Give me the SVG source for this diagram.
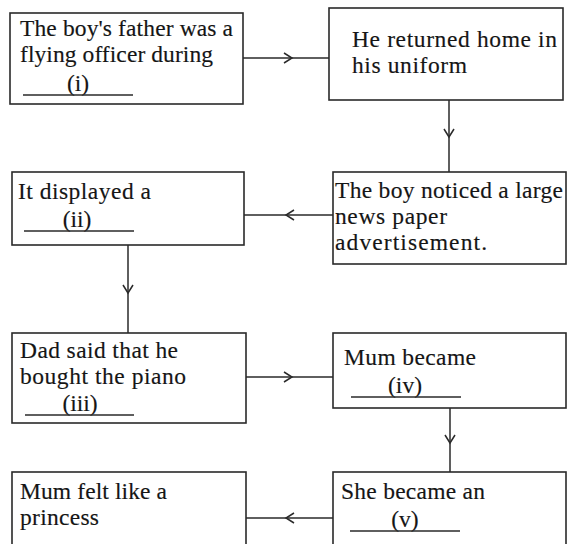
<svg xmlns="http://www.w3.org/2000/svg" width="567" height="544" viewBox="0 0 567 544">
<style>
.box{fill:#fff;stroke:#2a2a2a;stroke-width:1.6}
.t{font-family:"Liberation Serif","Times New Roman",serif;font-size:23.5px;fill:#151515;stroke:#151515;stroke-width:0.15}
.c{text-anchor:middle}
.ul{stroke:#2a2a2a;stroke-width:1.3}
.conn{fill:none;stroke:#2a2a2a;stroke-width:1.5;marker-mid:url(#chev)}
</style>
<defs>
<marker id="chev" markerUnits="userSpaceOnUse" markerWidth="16" markerHeight="16" viewBox="-10 -8 12 16" refX="0" refY="0" orient="auto">
<path d="M-8,-5 L0,0 L-8,5" fill="none" stroke="#2a2a2a" stroke-width="1.5"/>
</marker>
</defs>
<rect width="567" height="544" fill="#fff"/>
<g id="connectors">
<path class="conn" d="M243,58 L292,58 L329,58"/>
<path class="conn" d="M449,100 L449,137 L449,172"/>
<path class="conn" d="M333,215 L286,215 L244,215"/>
<path class="conn" d="M128,245 L128,293 L128,333"/>
<path class="conn" d="M246,377 L292,377 L333,377"/>
<path class="conn" d="M450,408 L450,443 L450,472"/>
<path class="conn" d="M333,518 L286,518 L246,518"/>
</g>
<g id="node1">
<rect class="box" x="10" y="13" width="233" height="91"/>
<text class="t" x="20" y="36" textLength="213">The boy's father was a</text>
<text class="t" x="20" y="62" textLength="193">flying officer during</text>
<text class="t c" x="78" y="91">(i)</text>
<line class="ul" x1="23" y1="95" x2="133" y2="95"/>
</g>
<g id="node2">
<rect class="box" x="329" y="8" width="234" height="92"/>
<text class="t" x="352" y="47" textLength="205">He returned home in</text>
<text class="t" x="352" y="73" textLength="115">his uniform</text>
</g>
<g id="node3">
<rect class="box" x="12" y="172" width="232" height="73"/>
<text class="t" x="18" y="199" textLength="133">It displayed a</text>
<text class="t c" x="77" y="227">(ii)</text>
<line class="ul" x1="24" y1="231" x2="134" y2="231"/>
</g>
<g id="node4">
<rect class="box" x="333" y="172" width="233" height="92"/>
<text class="t" x="335" y="198" textLength="228">The boy noticed a large</text>
<text class="t" x="335" y="224" textLength="112">news paper</text>
<text class="t" x="335" y="250" textLength="152">advertisement.</text>
</g>
<g id="node5">
<rect class="box" x="12" y="333" width="234" height="90"/>
<text class="t" x="20" y="358" textLength="158">Dad said that he</text>
<text class="t" x="20" y="384" textLength="166">bought the piano</text>
<text class="t c" x="80" y="411">(iii)</text>
<line class="ul" x1="25" y1="415" x2="134" y2="415"/>
</g>
<g id="node6">
<rect class="box" x="333" y="333" width="233" height="75"/>
<text class="t" x="344" y="365" textLength="132">Mum became</text>
<text class="t c" x="405" y="393">(iv)</text>
<line class="ul" x1="351" y1="397" x2="461" y2="397"/>
</g>
<g id="node7">
<rect class="box" x="12" y="472" width="234" height="90"/>
<text class="t" x="20" y="499" textLength="147">Mum felt like a</text>
<text class="t" x="20" y="525" textLength="79">princess</text>
</g>
<g id="node8">
<rect class="box" x="333" y="472" width="233" height="90"/>
<text class="t" x="341" y="499" textLength="144">She became an</text>
<text class="t c" x="405" y="527">(v)</text>
<line class="ul" x1="350" y1="531" x2="460" y2="531"/>
</g>
</svg>
